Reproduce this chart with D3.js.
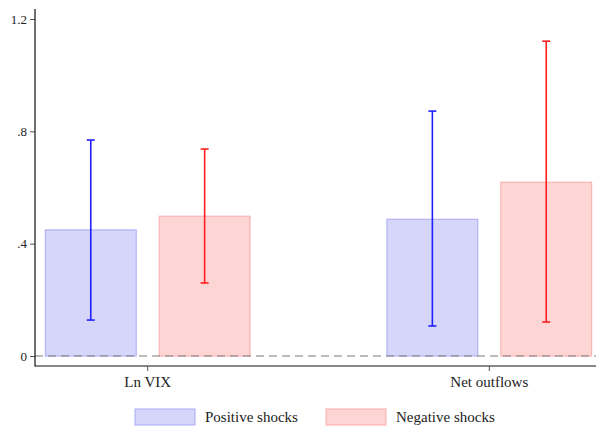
<!DOCTYPE html>
<html>
<head>
<meta charset="utf-8">
<script src="https://cdn.jsdelivr.net/npm/d3@7"></script>
<style>
  html, body { margin: 0; padding: 0; background: #fff; }
  svg { display: block; }
  text { font-family: "Liberation Serif", "Times New Roman", serif; fill: #222; }
</style>
</head>
<body>
<svg id="chart" width="596" height="426"></svg>
<script>
// Categories and series
const categories = ["Ln VIX", "Net outflows"];
const seriesNames = ["Positive shocks", "Negative shocks"];
const positiveMean = [0.449, 0.487];
const positiveLow  = [0.128, 0.107];
const positiveHigh = [0.769, 0.872];
const negativeMean = [0.498, 0.619];
const negativeLow  = [0.260, 0.121];
const negativeHigh = [0.737, 1.121];
const yTicks = [0, 0.4, 0.8, 1.2];
const yTickLabels = ["0", ".4", ".8", "1.2"];

const series = [
  { name: seriesNames[0], mean: positiveMean, low: positiveLow, high: positiveHigh,
    fill: "#d6d6fb", stroke: "#a9a9f6", bar: "#1f1fff", offset: -1 / 6 },
  { name: seriesNames[1], mean: negativeMean, low: negativeLow, high: negativeHigh,
    fill: "#fdd5d5", stroke: "#fbabab", bar: "#ff1f1f", offset: 1 / 6 }
];

const svg = d3.select("#chart");
const plotLeft = 35, plotRight = 596, plotTop = 9, axisY = 366;

const y = d3.scaleLinear().domain([0, 1.2]).range([356, 19]);
const x = d3.scaleLinear().domain([0, 1]).range([147.7, 489.3]);
const barW = x(0.266) - x(0);
const capW = 8;

// bars
series.forEach(s => {
  svg.append("g").selectAll("rect")
    .data(categories.map((c, i) => ({ i, v: s.mean[i] })))
    .join("rect")
    .attr("x", d => x(d.i + s.offset) - barW / 2)
    .attr("y", d => y(d.v))
    .attr("width", barW)
    .attr("height", d => y(0) - y(d.v))
    .attr("fill", s.fill)
    .attr("stroke", s.stroke)
    .attr("stroke-width", 1);
});

// zero reference line
svg.append("line")
  .attr("x1", plotLeft).attr("x2", plotRight)
  .attr("y1", y(0)).attr("y2", y(0))
  .attr("stroke", "#7a7a7a").attr("stroke-width", 1.2)
  .attr("stroke-dasharray", "8,5");

// confidence intervals
series.forEach(s => {
  const g = svg.append("g");
  categories.forEach((c, i) => {
    const cx = x(i + s.offset);
    g.append("line")
      .attr("x1", cx).attr("x2", cx)
      .attr("y1", y(s.high[i])).attr("y2", y(s.low[i]))
      .attr("stroke", s.bar).attr("stroke-width", 1.6);
    [s.high[i], s.low[i]].forEach(v => {
      g.append("line")
        .attr("x1", cx - capW / 2).attr("x2", cx + capW / 2)
        .attr("y1", y(v)).attr("y2", y(v))
        .attr("stroke", s.bar).attr("stroke-width", 1.6);
    });
  });
});

// y axis
const yAxis = d3.axisLeft(y).tickValues(yTicks)
  .tickFormat((d, i) => yTickLabels[i]).tickSize(5).tickPadding(3);
const gy = svg.append("g").attr("transform", `translate(${plotLeft},0)`).call(yAxis);
gy.select(".domain").remove();
gy.selectAll(".tick line").attr("stroke", "#555");
gy.selectAll(".tick text").attr("font-size", 13).attr("font-family", "Liberation Serif").attr("fill", "#222");
svg.append("line").attr("x1", plotLeft).attr("x2", plotLeft).attr("y1", plotTop).attr("y2", axisY + 0.5)
  .attr("stroke", "#111").attr("stroke-width", 1.2);

// x axis
const gx = svg.append("g").attr("transform", `translate(0,${axisY})`);
gx.append("line").attr("x1", plotLeft).attr("x2", plotRight).attr("y1", 0).attr("y2", 0)
  .attr("stroke", "#111").attr("stroke-width", 1.2);
categories.forEach((c, i) => {
  gx.append("line").attr("x1", x(i)).attr("x2", x(i)).attr("y1", 0).attr("y2", 5)
    .attr("stroke", "#555");
  gx.append("text").attr("x", x(i)).attr("y", 21)
    .attr("text-anchor", "middle").attr("font-size", 15).text(c);
});

// legend
const legendItems = [
  { x: 135, tx: 205 },
  { x: 326, tx: 396 }
];
series.forEach((s, i) => {
  const L = legendItems[i];
  svg.append("rect").attr("x", L.x).attr("y", 409).attr("width", 60).attr("height", 16)
    .attr("fill", s.fill).attr("stroke", s.stroke);
  svg.append("text").attr("x", L.tx).attr("y", 422).attr("font-size", 15).text(s.name);
});
</script>
</body>
</html>
